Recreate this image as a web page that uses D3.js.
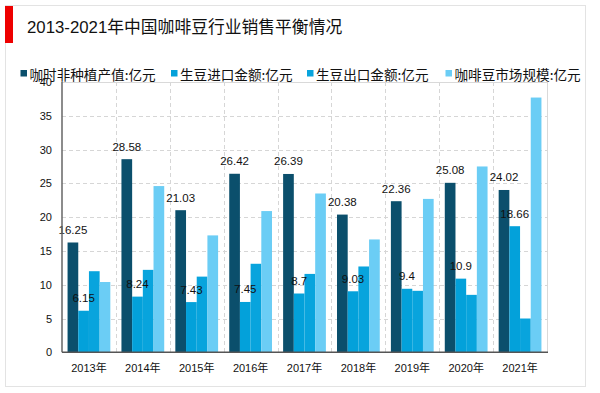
<!DOCTYPE html>
<html><head><meta charset="utf-8">
<script src="https://cdn.jsdelivr.net/npm/d3@7"></script>
<style>
html,body{margin:0;padding:0;background:#fff;}
svg{display:block;font-family:"Liberation Sans",Arial,"Noto Sans CJK SC",sans-serif;}
</style></head>
<body>
<svg id="c" width="600" height="393"></svg>
<script>
const title = "2013-2021年中国咖啡豆行业销售平衡情况";
const categories = ["2013年","2014年","2015年","2016年","2017年","2018年","2019年","2020年","2021年"];
const seriesNames = ["咖时非种植产值:亿元","生豆进口金额:亿元","生豆出口金额:亿元","咖啡豆市场规模:亿元"];
const plantValue = [16.25,28.58,21.03,26.42,26.39,20.38,22.36,25.08,24.02];
const importValue = [6.15,8.24,7.43,7.45,8.7,9.03,9.4,10.9,18.66];
const exportValue = [12.0,12.2,11.2,13.1,11.6,12.7,9.1,8.5,5.0];
const marketValue = [10.4,24.6,17.3,20.9,23.5,16.7,22.7,27.5,37.7];
const yTicks = [0,5,10,15,20,25,30,35,40];
const labeled = [true,true,false,false];

const seriesValues = [plantValue, importValue, exportValue, marketValue];
const colors = ["#0b4f6c","#03a1da","#08a4dd","#6bcdf5"];

const svg = d3.select("#c");
svg.append("rect").attr("x",5.5).attr("y",5.5).attr("width",580).attr("height",381)
  .attr("fill","none").attr("stroke","#e3e3e3").attr("stroke-width",1);
svg.append("rect").attr("x",5).attr("y",6).attr("width",8).attr("height",37).attr("fill","#ee0000");
svg.append("text").attr("x",27).attr("y",33).attr("font-size",16.8).attr("fill","#111")
  .attr("font-family","'Liberation Sans','Noto Sans CJK SC',sans-serif").text(title);

const pLeft=62, pRight=547, pTop=82, pBottom=352.3;
const x0 = d3.scaleBand().domain(categories).range([pLeft,pRight]).paddingInner(0).paddingOuter(0);
const x1 = d3.scaleBand().domain(d3.range(4)).range([0,x0.bandwidth()]).paddingInner(0).paddingOuter(0.52);
const y = d3.scaleLinear().domain([0,40]).range([pBottom,pTop]);

const g = svg.append("g");
g.selectAll(".hg").data(yTicks.filter(t=>t>0 && t<40)).join("line")
  .attr("x1",pLeft).attr("x2",pRight).attr("y1",d=>Math.round(y(d))+0.5).attr("y2",d=>Math.round(y(d))+0.5)
  .attr("stroke","#d6d6d6").attr("stroke-dasharray","4,3");
g.selectAll(".vg").data(categories.slice(1)).join("line")
  .attr("x1",d=>Math.round(x0(d))+0.5).attr("x2",d=>Math.round(x0(d))+0.5).attr("y1",pTop).attr("y2",pBottom)
  .attr("stroke","#d6d6d6").attr("stroke-dasharray","4,3");
g.append("line").attr("x1",pLeft).attr("x2",pRight).attr("y1",Math.round(y(40))+0.5).attr("y2",Math.round(y(40))+0.5).attr("stroke","#d9d9d9");
g.append("line").attr("x1",pRight+0.5).attr("x2",pRight+0.5).attr("y1",pTop).attr("y2",pBottom).attr("stroke","#d9d9d9");

seriesValues.forEach((vals,si)=>{
  g.selectAll(".b"+si).data(vals).join("rect")
    .attr("x",(d,i)=>x0(categories[i])+x1(si))
    .attr("width",x1.bandwidth())
    .attr("y",d=>y(d)).attr("height",d=>y(0)-y(d))
    .attr("fill",colors[si]);
});
seriesValues.forEach((vals,si)=>{
  if(!labeled[si]) return;
  g.selectAll(".l"+si).data(vals).join("text")
    .attr("x",(d,i)=>x0(categories[i])+x1(si)+x1.bandwidth()/2)
    .attr("y",d=>y(d)-8.5)
    .attr("text-anchor","middle").attr("font-size",11.5).attr("fill","#111")
    .text(d=>d);
});

const yAxis = d3.axisLeft(y).tickValues(yTicks).tickSize(0).tickPadding(10);
const ya = svg.append("g").attr("transform",`translate(${pLeft},0)`).call(yAxis);
ya.select(".domain").attr("stroke","#666").attr("stroke-width",1.5).attr("d",`M0,${pTop}V${pBottom}`);
ya.selectAll("text").attr("font-size",11).attr("fill","#111").attr("font-family","'Liberation Sans',Arial,sans-serif");

const xAxis = d3.axisBottom(x0).tickSize(0).tickPadding(12);
const xa = svg.append("g").attr("transform",`translate(0,${pBottom})`).call(xAxis);
xa.select(".domain").attr("stroke","#555").attr("stroke-width",1.5).attr("d",`M${pLeft},0H${pRight+1}`);
xa.selectAll("text").attr("font-size",11).attr("fill","#111").attr("font-family","'Liberation Sans','Noto Sans CJK SC',sans-serif");

const legendX = [20.5,171,307,445.5];
const lg = svg.append("g");
seriesNames.forEach((n,i)=>{
  lg.append("rect").attr("x",legendX[i]).attr("y",70).attr("width",6.5).attr("height",6.5).attr("fill",colors[i]);
  lg.append("text").attr("x",legendX[i]+9).attr("y",79.5).attr("font-size",13.6).attr("fill","#111")
    .attr("font-family","'Noto Sans CJK SC',sans-serif").text(n);
});
</script>
</body></html>
